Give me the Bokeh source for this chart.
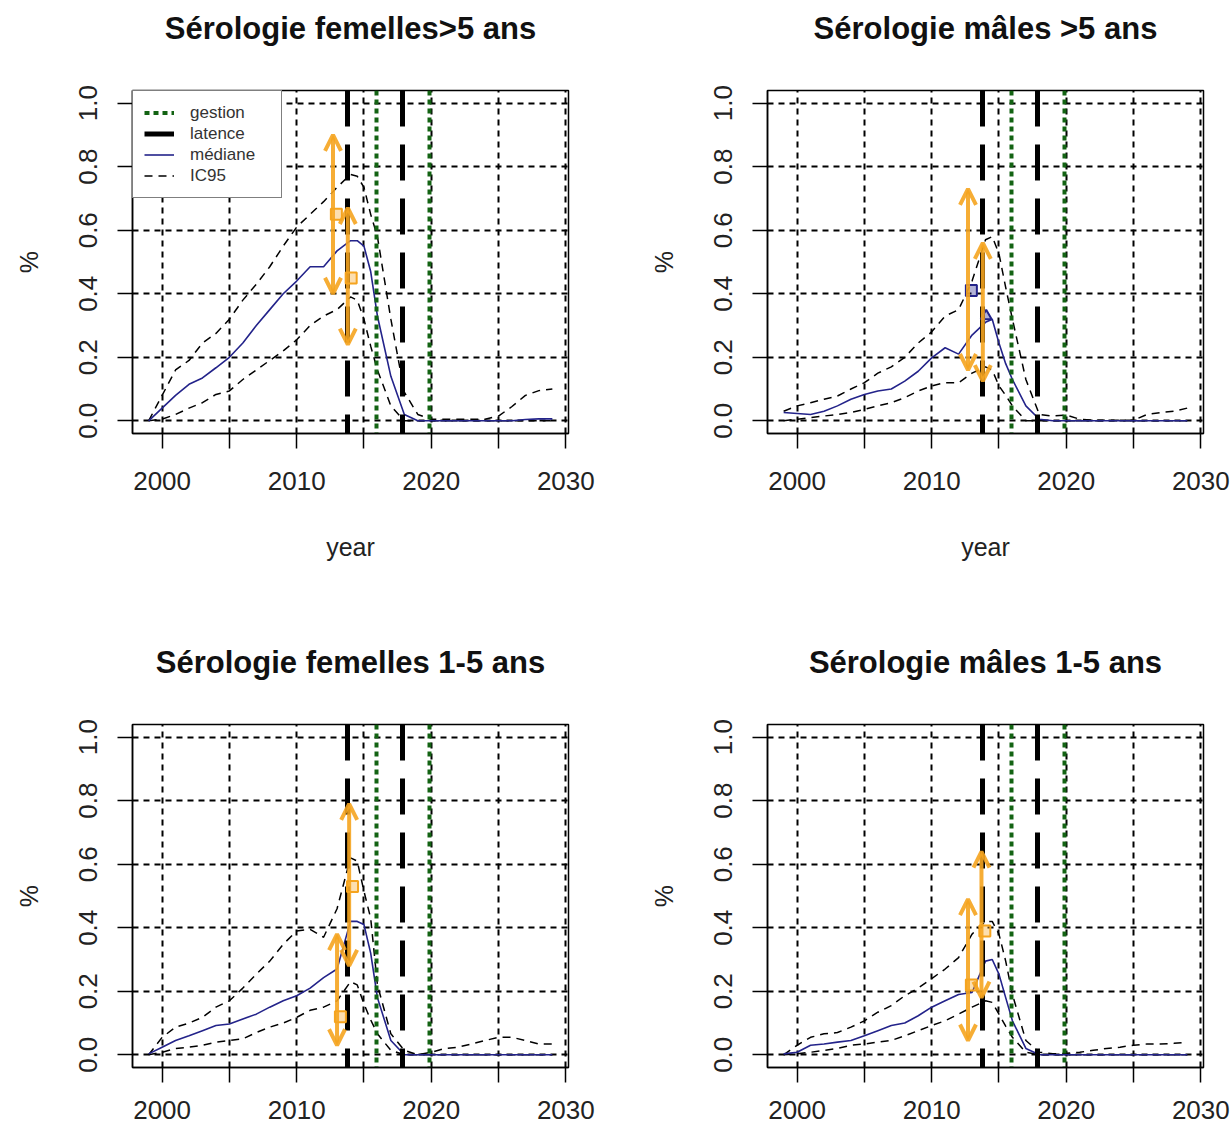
from bokeh.plotting import figure
from bokeh.models import (FixedTicker, NumeralTickFormatter, Arrow, OpenHead, Title,
                          ColumnDataSource, Legend, LegendItem, Range1d)
from bokeh.layouts import column, row
from bokeh.embed import file_html
from bokeh.resources import INLINE

# ---- data -------------------------------------------------------------
years = [1999, 2000, 2001, 2002, 2003, 2004, 2005, 2006, 2007, 2008, 2009,
         2010, 2011, 2012, 2013, 2014, 2014.5, 2015, 2015.5, 2016, 2017,
         2018, 2019, 2020, 2021, 2022, 2023, 2024, 2025, 2026, 2027, 2028, 2029]

# females > 5 years
f5_med = [0, .04, .08, .115, .135, .167, .20, .245, .30, .35, .40, .44, .485, .485,
          .535, .567, .567, .55, .47, .33, .14, .02, 0, 0, 0, 0, 0, 0, 0, 0, .004, .006, .006]
f5_up = [0, .08, .16, .19, .245, .275, .32, .38, .43, .485, .55, .61, .65, .69, .735,
         .776, .77, .735, .65, .58, .32, .09, .02, .005, .005, .005, .005, .005, .015,
         .045, .08, .095, .10]
f5_lo = [0, .005, .02, .04, .057, .083, .094, .13, .16, .19, .22, .255, .30, .33, .35,
         .39, .38, .32, .235, .16, .047, 0, 0, 0, 0, 0, 0, 0, 0, 0, 0, 0, 0]

# males > 5 years
m5_med = [.026, .023, .02, .03, .047, .068, .083, .094, .10, .125, .156, .198, .23, .21,
          .27, .31, .32, .245, .18, .13, .047, .005, 0, 0, 0, 0, 0, 0, 0, 0, 0, 0, 0]
m5_up = [.03, .047, .057, .068, .078, .10, .12, .15, .17, .20, .245, .28, .33, .35, .44,
         .57, .58, .526, .42, .32, .13, .02, .015, .018, .005, .002, .002, .002, .002,
         .02, .026, .03, .04]
m5_lo = [0, .005, .01, .015, .02, .026, .036, .047, .057, .073, .094, .11, .12, .12, .15,
         .17, .16, .11, .08, .047, 0, 0, 0, 0, 0, 0, 0, 0, 0, 0, 0, 0, 0]

# females 1-5 years
f1_med = [.003, .024, .045, .06, .076, .092, .097, .113, .128, .15, .17, .186, .21, .243,
          .27, .42, .42, .41, .32, .18, .045, 0, 0, 0, 0, 0, 0, 0, 0, 0, 0, 0, 0]
f1_up = [0, .055, .087, .10, .118, .15, .17, .21, .254, .295, .348, .39, .395, .37, .46,
         .62, .61, .515, .43, .22, .066, .014, 0, .008, .02, .024, .034, .045, .055, .055,
         .045, .034, .034]
f1_lo = [0, .008, .02, .024, .03, .04, .045, .05, .07, .087, .10, .118, .14, .15, .17,
         .23, .22, .16, .11, .066, .014, 0, 0, 0, 0, 0, 0, 0, 0, 0, 0, 0, 0]

# males 1-5 years
m1_med = [.003, .008, .03, .034, .04, .045, .06, .076, .092, .10, .123, .15, .17, .19,
          .196, .295, .30, .254, .18, .107, .02, 0, 0, 0, 0, 0, 0, 0, 0, 0, 0, 0, 0]
m1_up = [0, .03, .055, .066, .07, .087, .107, .134, .155, .186, .21, .24, .27, .306, .38,
         .42, .42, .38, .295, .19, .045, .008, .003, .005, .008, .014, .02, .024, .03,
         .034, .034, .036, .04]
m1_lo = [0, .003, .008, .014, .02, .03, .034, .04, .045, .06, .076, .092, .107, .128, .15,
         .17, .165, .128, .09, .055, .008, 0, 0, 0, 0, 0, 0, 0, 0, 0, 0, 0, 0]

# observed serology: interval bounds and point estimates
f5_obs_x = [2012.7, 2013.8]
f5_obs_lo = [0.40, 0.24]
f5_obs_hi = [0.90, 0.67]
f5_obs_pt = [0.65, 0.45]

m5_obs_x = [2012.7, 2013.8]
m5_obs_lo = [0.16, 0.125]
m5_obs_hi = [0.73, 0.56]
m5_obs_pt = [0.41, 0.33]

f1_obs_x = [2013.9, 2013.0]
f1_obs_lo = [0.28, 0.03]
f1_obs_hi = [0.79, 0.38]
f1_obs_pt = [0.53, 0.12]

m1_obs_x = [2013.7, 2012.7]
m1_obs_lo = [0.18, 0.045]
m1_obs_hi = [0.64, 0.49]
m1_obs_pt = [0.39, 0.22]

latence_years = [2013.8, 2017.9]
gestion_years = [2015.9, 2019.9]

x_ticks = [2000, 2010, 2020, 2030]
x_minor = [2005, 2015, 2025]
y_ticks = [0, 0.2, 0.4, 0.6, 0.8, 1.0]

# ---- styling ----------------------------------------------------------
FONT = "Liberation Sans"
NAVY = "#23238a"
GREEN = "#136313"
ORANGE = "#f5a41f"


def make_panel(title, med, up, lo, ox, olo, ohi, opt, pt_color, pt_markers,
               left, right, top, bottom, xlabel, label_gap, legend=False):
    p = figure(frame_width=436, frame_height=343,
               x_range=Range1d(1997.8, 2030.2), y_range=Range1d(-0.04, 1.04),
               output_backend="svg", toolbar_location=None,
               min_border_left=left, min_border_right=right,
               min_border_top=top, min_border_bottom=bottom,
               background_fill_color="white", border_fill_color="white")
    p.outline_line_color = "black"
    p.outline_line_width = 1.5

    # empty band between the frame and the title
    p.add_layout(Title(text=" ", text_font_size="1px", standoff=37), "above")
    p.title.text = title
    p.title.align = "center"
    p.title.text_font = FONT
    p.title.text_font_size = "31px"
    p.title.text_font_style = "bold"
    p.title.text_color = "#111111"
    p.title.standoff = 10

    p.xaxis.ticker = FixedTicker(ticks=x_ticks, minor_ticks=x_minor)
    p.yaxis.ticker = FixedTicker(ticks=y_ticks)
    p.yaxis.formatter = NumeralTickFormatter(format="0.0")
    for ax in (p.xaxis, p.yaxis):
        ax.axis_line_color = "black"
        ax.axis_line_width = 1.5
        ax.major_tick_out = 15
        ax.major_tick_in = 0
        ax.major_tick_line_width = 1.5
        ax.major_tick_line_color = "black"
        ax.minor_tick_out = 15
        ax.minor_tick_in = 0
        ax.minor_tick_line_width = 1.5
        ax.minor_tick_line_color = "black"
        ax.major_label_text_font = FONT
        ax.major_label_text_font_size = "26px"
        ax.major_label_text_color = "#222222"
        ax.axis_label_text_font = FONT
        ax.axis_label_text_font_size = "25px"
        ax.axis_label_text_font_style = "normal"
        ax.axis_label_text_color = "#222222"
    p.yaxis.minor_tick_line_color = None
    p.yaxis.major_label_orientation = "vertical"
    p.yaxis.major_label_standoff = 20
    p.yaxis.axis_label = "%"
    p.yaxis.axis_label_standoff = 34
    p.xaxis.major_label_standoff = label_gap
    if xlabel:
        p.xaxis.axis_label = "year"
        p.xaxis.axis_label_standoff = 40

    for g in (p.xgrid, p.ygrid):
        g.grid_line_color = "black"
        g.grid_line_width = 2
        g.grid_line_dash = "6 5"
    p.xgrid.minor_grid_line_color = "black"
    p.xgrid.minor_grid_line_width = 2
    p.xgrid.minor_grid_line_dash = "6 5"

    # model curves
    r_ic = p.line(years, up, line_color="black", line_width=1.5, line_dash="8 6")
    p.line(years, lo, line_color="black", line_width=1.5, line_dash="8 6")
    r_med = p.line(years, med, line_color=NAVY, line_width=1.6)

    # latency / management dates
    r_lat = p.vspan(x=latence_years, line_color="black", line_width=5, line_dash="36 18")
    r_ges = p.vspan(x=gestion_years, line_color=GREEN, line_width=4, line_dash="5 4")

    # observed intervals
    src = ColumnDataSource(dict(x0=ox, y0=olo, x1=ox, y1=ohi))
    p.add_layout(Arrow(source=src, x_start="x0", y_start="y0", x_end="x1", y_end="y1",
                       line_color=ORANGE, line_width=4, line_alpha=0.9,
                       start=OpenHead(size=16, line_color=ORANGE, line_width=4, line_alpha=0.9),
                       end=OpenHead(size=16, line_color=ORANGE, line_width=4, line_alpha=0.9)))
    px = [v + 0.25 for v in ox]
    psrc = ColumnDataSource(dict(x=px, y=opt, m=pt_markers))
    p.scatter("x", "y", marker="m", source=psrc, size=11, line_color=pt_color,
              line_width=2, fill_color=pt_color, fill_alpha=0.35)

    if legend:
        lg = Legend(items=[LegendItem(label="gestion", renderers=[r_ges], index=0),
                           LegendItem(label="latence", renderers=[r_lat], index=0),
                           LegendItem(label="médiane", renderers=[r_med]),
                           LegendItem(label="IC95", renderers=[r_ic])],
                    location="top_left", margin=0, padding=11, spacing=0,
                    label_text_font=FONT, label_text_font_size="17px",
                    label_text_color="#333333", label_height=21, glyph_height=21,
                    glyph_width=30, label_standoff=16, label_width=80,
                    border_line_color="black", border_line_width=1.5,
                    background_fill_color="white", background_fill_alpha=1.0)
        p.add_layout(lg)
    return p


p1 = make_panel("Sérologie femelles>5 ans", f5_med, f5_up, f5_lo,
                f5_obs_x, f5_obs_lo, f5_obs_hi, f5_obs_pt, ORANGE, ["square", "square"],
                132, 59, 90, 160, True, 23, legend=True)
p2 = make_panel("Sérologie mâles >5 ans", m5_med, m5_up, m5_lo,
                m5_obs_x, m5_obs_lo, m5_obs_hi, m5_obs_pt, NAVY, ["square", "triangle"],
                140, 28, 90, 160, True, 23)
p3 = make_panel("Sérologie femelles 1-5 ans", f1_med, f1_up, f1_lo,
                f1_obs_x, f1_obs_lo, f1_obs_hi, f1_obs_pt, ORANGE, ["square", "square"],
                132, 59, 131, 59, False, 18)
p4 = make_panel("Sérologie mâles 1-5 ans", m1_med, m1_up, m1_lo,
                m1_obs_x, m1_obs_lo, m1_obs_hi, m1_obs_pt, ORANGE, ["square", "square"],
                140, 28, 131, 59, False, 18)

layout = column(row(p1, p2, spacing=0), row(p3, p4, spacing=0), spacing=0)
open("out.html", "w").write(file_html(layout, INLINE))
